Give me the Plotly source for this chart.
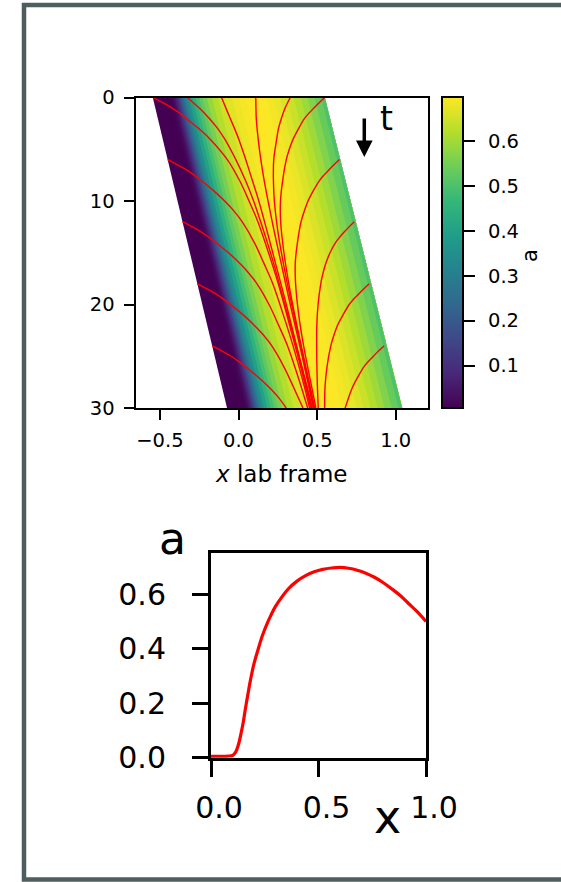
import plotly.graph_objects as go
from plotly.colors import sample_colorscale

# ---------------- data ----------------
# profile a(x) (bottom panel) in the travelling frame, x in [0, 1]
PROFILE_X = [0.00, 0.05, 0.08, 0.10, 0.11, 0.12, 0.13, 0.14, 0.15, 0.16, 0.17, 0.18,
             0.19, 0.20, 0.22, 0.24, 0.26, 0.28, 0.30, 0.33, 0.36, 0.40, 0.44, 0.48,
             0.52, 0.56, 0.60, 0.64, 0.68, 0.72, 0.76, 0.80, 0.84, 0.88, 0.92, 0.96, 1.00]
PROFILE_A = [0.005, 0.005, 0.006, 0.008, 0.015, 0.030, 0.055, 0.090, 0.130, 0.180, 0.225, 0.270,
             0.310, 0.345, 0.400, 0.450, 0.490, 0.525, 0.555, 0.590, 0.620, 0.648, 0.668, 0.682,
             0.691, 0.696, 0.698, 0.695, 0.688, 0.677, 0.662, 0.643, 0.620, 0.595, 0.565, 0.535, 0.500]

# band edges in the lab frame at t = 0 and t = 30
BAND_T = [0, 30]
BAND_LEFT_X = [-0.545, -0.073]
BAND_RIGHT_X = [0.548, 1.040]

A_MIN, A_MAX = 0.006, 0.698

# characteristic curves (lab x, t)
L00_T = [0, 0.5, 1, 1.5, 2, 3, 4, 6, 8, 10, 12, 15, 18, 22, 26, 30]
L00_X = [-0.545, -0.482, -0.424, -0.376, -0.334, -0.253, -0.182, -0.071, 0.006, 0.067, 0.123, 0.191, 0.253, 0.325, 0.395, 0.460]
L06_T = [6, 6.5, 7, 7.5, 8, 9, 10, 11, 12, 14, 16, 18, 21, 24, 28, 30]
L06_X = [-0.451, -0.388, -0.330, -0.282, -0.239, -0.159, -0.088, -0.027, 0.023, 0.100, 0.161, 0.218, 0.285, 0.347, 0.420, 0.452]
L12_T = [12, 12.5, 13, 13.5, 14, 15, 16, 17, 18, 20, 22, 24, 27, 30]
L12_X = [-0.357, -0.294, -0.236, -0.188, -0.145, -0.064, 0.006, 0.067, 0.118, 0.194, 0.255, 0.312, 0.379, 0.440]
L18_T = [18, 18.5, 19, 19.5, 20, 21, 22, 23, 24, 26, 28, 30]
L18_X = [-0.262, -0.199, -0.142, -0.094, -0.051, 0.030, 0.100, 0.161, 0.212, 0.288, 0.350, 0.410]
L24_T = [24, 24.5, 25, 25.5, 26, 27, 28, 29, 30]
L24_X = [-0.168, -0.105, -0.047, 0.001, 0.043, 0.124, 0.195, 0.255, 0.303]
T02_T = [0, 1, 2, 3, 4, 6, 8, 10, 13, 16, 20, 25, 30]
T02_X = [-0.326, -0.251, -0.187, -0.132, -0.088, -0.017, 0.044, 0.096, 0.162, 0.223, 0.295, 0.384, 0.466]
T04_T = [0, 1, 2, 4, 6, 8, 10, 13, 16, 20, 25, 30]
T04_X = [-0.108, -0.081, -0.053, 0.001, 0.046, 0.088, 0.129, 0.183, 0.235, 0.304, 0.386, 0.470]
T06_T = [0, 1, 2, 4, 6, 8, 10, 13, 16, 20, 25, 30]
T06_X = [0.110, 0.111, 0.113, 0.125, 0.142, 0.163, 0.188, 0.228, 0.271, 0.329, 0.405, 0.476]
T08_T = [0, 1, 2, 3, 4, 6, 8, 10, 13, 16, 20, 25, 30]
T08_X = [0.329, 0.297, 0.273, 0.254, 0.243, 0.224, 0.222, 0.228, 0.251, 0.285, 0.338, 0.410, 0.480]
T10_T = [0, 0.5, 1, 1.5, 2, 3, 4, 5, 6, 8, 10, 12, 15, 18, 22, 26, 30]
T10_X = [0.548, 0.513, 0.481, 0.449, 0.421, 0.382, 0.348, 0.323, 0.304, 0.281, 0.267, 0.268, 0.289, 0.320, 0.371, 0.428, 0.485]
R06_T = [6, 6.5, 7, 7.5, 8, 9, 10, 11, 12, 14, 16, 18, 21, 24, 28, 30]
R06_X = [0.642, 0.607, 0.575, 0.543, 0.516, 0.476, 0.442, 0.418, 0.398, 0.375, 0.361, 0.363, 0.383, 0.414, 0.466, 0.492]
R12_T = [12, 12.5, 13, 13.5, 14, 15, 16, 17, 18, 20, 22, 24, 27, 30]
R12_X = [0.736, 0.703, 0.672, 0.643, 0.618, 0.582, 0.556, 0.537, 0.523, 0.506, 0.498, 0.497, 0.500, 0.507]
R18_T = [18, 18.5, 19, 19.5, 20, 21, 22, 23, 24, 26, 28, 30]
R18_X = [0.831, 0.796, 0.763, 0.731, 0.704, 0.665, 0.630, 0.606, 0.587, 0.563, 0.550, 0.548]
R24_T = [24, 24.5, 25, 25.5, 26, 27, 28, 29, 30]
R24_X = [0.925, 0.890, 0.858, 0.826, 0.798, 0.759, 0.725, 0.700, 0.678]

CHARACTERISTICS = [
    (L00_X, L00_T), (L06_X, L06_T), (L12_X, L12_T), (L18_X, L18_T), (L24_X, L24_T),
    (T02_X, T02_T), (T04_X, T04_T), (T06_X, T06_T), (T08_X, T08_T), (T10_X, T10_T),
    (R06_X, R06_T), (R12_X, R12_T), (R18_X, R18_T), (R24_X, R24_T),
]

CBAR_TICKS = [0.1, 0.2, 0.3, 0.4, 0.5, 0.6]
TOP_XTICKS = [-0.5, 0.0, 0.5, 1.0]
TOP_XTICKTEXT = ["\u22120.5", "0.0", "0.5", "1.0"]
TOP_YTICKS = [0, 10, 20, 30]
BOT_XTICKS = [0.0, 0.5, 1.0]
BOT_YTICKS = [0.0, 0.2, 0.4, 0.6]

# ---------------- figure ----------------
W, H = 561, 882
FONT = "DejaVu Sans"


def px(v):
    return v / W


def py(v):
    return 1 - v / H


fig = go.Figure()

# coloured band: strips drawn left to right, each reaching the right edge
n = len(PROFILE_X)
for i in range(n):
    b = 0.0 if i == 0 else 0.5 * (PROFILE_X[i - 1] + PROFILE_X[i])
    xa0 = BAND_LEFT_X[0] + (BAND_RIGHT_X[0] - BAND_LEFT_X[0]) * b
    xa1 = BAND_LEFT_X[1] + (BAND_RIGHT_X[1] - BAND_LEFT_X[1]) * b
    v = (PROFILE_A[i] - A_MIN) / (A_MAX - A_MIN)
    v = min(max(v, 0.0), 1.0)
    col = sample_colorscale("Viridis", [v])[0]
    fig.add_trace(go.Scatter(
        x=[xa0, BAND_RIGHT_X[0], BAND_RIGHT_X[1], xa1, xa0],
        y=[BAND_T[0], BAND_T[0], BAND_T[1], BAND_T[1], BAND_T[0]],
        mode="lines", fill="toself", fillcolor=col,
        line=dict(width=0, color=col), hoverinfo="skip", showlegend=False,
        xaxis="x", yaxis="y"))

for cx, ct in CHARACTERISTICS:
    fig.add_trace(go.Scatter(x=cx, y=ct, mode="lines",
                             line=dict(color="#ff0000", width=1.4, shape="spline"),
                             hoverinfo="skip", showlegend=False, xaxis="x", yaxis="y"))

# colour bar carrier
CB_TOP, CB_BOT = 97.5, 408
fig.add_trace(go.Scatter(
    x=[None, None], y=[None, None], mode="markers", showlegend=False, hoverinfo="skip",
    marker=dict(color=[A_MIN, A_MAX], colorscale="Viridis", cmin=A_MIN, cmax=A_MAX,
                showscale=True,
                colorbar=dict(x=px(442), xanchor="left", y=py((CB_TOP + CB_BOT) / 2),
                              yanchor="middle", len=(CB_BOT - CB_TOP) / H, lenmode="fraction",
                              thickness=21, thicknessmode="pixels", outlinewidth=2,
                              outlinecolor="black", ticks="outside", ticklen=11, tickwidth=2,
                              tickcolor="black", tickvals=CBAR_TICKS, showticklabels=False,
                              xpad=0, ypad=0)),
    xaxis="x", yaxis="y"))

# colour-bar tick labels placed on the bar's own linear scale
for v in CBAR_TICKS:
    yy = py(CB_BOT) + (v - A_MIN) / (A_MAX - A_MIN) * (CB_BOT - CB_TOP) / H
    fig.add_annotation(text=f"{v:.1f}", x=px(486), y=yy, xref="paper", yref="paper",
                       showarrow=False, xanchor="left", yanchor="middle",
                       font=dict(size=19.5, family=FONT))

# bottom profile
fig.add_trace(go.Scatter(x=PROFILE_X, y=PROFILE_A, mode="lines",
                         line=dict(color="#ff0000", width=3.2, shape="spline"),
                         hoverinfo="skip", showlegend=False, xaxis="x2", yaxis="y2"))

axis_common = dict(showgrid=False, zeroline=False, showline=True, mirror=True,
                   linecolor="black", ticks="outside", tickcolor="black", automargin=False)

fig.update_layout(
    width=W, height=H, margin=dict(l=0, r=0, t=0, b=0, pad=0, autoexpand=False),
    autosize=False,
    paper_bgcolor="white", plot_bgcolor="white",
    font=dict(family=FONT, color="black"),
    xaxis=dict(domain=[px(135.5), px(428)], range=[-0.655, 1.205], anchor="y",
               tickvals=TOP_XTICKS, ticktext=TOP_XTICKTEXT, linewidth=2, ticklen=10,
               tickwidth=2, tickfont=dict(size=19.5), ticklabelstandoff=4,
               title=dict(text="<i>x</i> lab frame", font=dict(size=23), standoff=14),
               **axis_common),
    yaxis=dict(domain=[py(408), py(97.5)], range=[30, 0], anchor="x",
               tickvals=TOP_YTICKS, linewidth=2, ticklen=10, tickwidth=2,
               tickfont=dict(size=19.5), ticklabelstandoff=5, **axis_common),
    xaxis2=dict(domain=[px(211), px(426)], range=[0, 1], anchor="y2",
                tickvals=BOT_XTICKS, ticktext=["0.0", "0.5", "1.0"], linewidth=3,
                ticklen=16, tickwidth=3, tickfont=dict(size=30), ticklabelstandoff=5,
                ticklabelshift=8, **axis_common),
    yaxis2=dict(domain=[py(757.7), py(553.3)], range=[0, 0.75], anchor="x2",
                tickvals=BOT_YTICKS, ticktext=["0.0", "0.2", "0.4", "0.6"], linewidth=3,
                ticklen=16, tickwidth=3, tickfont=dict(size=30), ticklabelstandoff=20,
                **axis_common),
)

fig.add_annotation(text="t", x=px(386.5), y=py(118.5), xref="paper", yref="paper",
                   showarrow=False, font=dict(size=33, family=FONT),
                   xanchor="center", yanchor="middle")
fig.add_annotation(text="", x=px(364.3), y=py(157), xref="paper", yref="paper",
                   ax=0, ay=-40, showarrow=True, arrowhead=2, arrowsize=0.95,
                   arrowwidth=3.5, arrowcolor="black", standoff=0)
fig.add_annotation(text="a", x=px(530), y=py(256), xref="paper", yref="paper",
                   showarrow=False, textangle=-90, font=dict(size=21, family=FONT),
                   xanchor="center", yanchor="middle")
fig.add_annotation(text="a", x=px(172), y=py(538), xref="paper", yref="paper",
                   showarrow=False, font=dict(size=44, family=FONT),
                   xanchor="center", yanchor="middle")
fig.add_annotation(text="x", x=px(387), y=py(817), xref="paper", yref="paper",
                   showarrow=False, font=dict(size=46, family=FONT),
                   xanchor="center", yanchor="middle")

# outer frame (right side lies beyond the page)
fig.add_shape(type="rect", xref="paper", yref="paper", x0=px(24), x1=1.5,
              y0=py(879.5), y1=py(5), line=dict(color="#4e5e5e", width=4.5), layer="above")

fig.write_html("out.html")
